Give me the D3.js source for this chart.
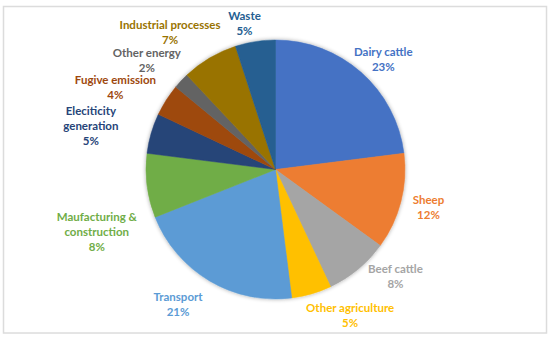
<!DOCTYPE html>
<html>
<head>
<meta charset="utf-8">
<script src="https://d3js.org/d3.v7.min.js"></script>
<style>
  body { margin: 0; background: #fff; }
  svg { display: block; }
  .lbl { font-family: Lato, "Open Sans", sans-serif; font-weight: bold; font-size: 11.5px; }
</style>
</head>
<body>
<script>
(function(){

//chart data, clockwise from 12 o'clock
var categories = ["Dairy cattle", "Sheep", "Beef cattle", "Other agriculture", "Transport",
    "Maufacturing & construction", "Eleciticity generation", "Fugive emission",
    "Other energy", "Industrial processes", "Waste"];
var shares = [23, 12, 8, 5, 21, 8, 5, 4, 2, 7, 5];
var labelLines = [["Dairy cattle"], ["Sheep"], ["Beef cattle"], ["Other agriculture"], ["Transport"],
    ["Maufacturing &", "construction"], ["Eleciticity", "generation"], ["Fugive emission"],
    ["Other energy"], ["Industrial processes"], ["Waste"]];
var colors = ["#4472C4", "#ED7D31", "#A5A5A5", "#FFC000", "#5B9BD5", "#70AD47",
    "#264478", "#9E480E", "#636363", "#997300", "#255E91"];

//label nudges (px) from the default outside position
var nudges = [[2, 10], [-2, -2], [18, -16], [30, -8], [-16, -3], [-20, 42],
    [-31, 1], [-25, 4], [-12, 0], [-24, 1], [-6, 12]];

var width = 550, height = 338,
    cx = 275.5, cy = 169.5,
    radius = 129.5,
    labelRadius = 160,
    lineGap = 15;

var svg = d3.select("body").append("svg")
    .attr("width", width)
    .attr("height", height);

//frame
svg.append("rect")
    .attr("x", 3.5).attr("y", 6.5)
    .attr("width", 543).attr("height", 326.5)
    .attr("fill", "#fff")
    .attr("stroke", "#dcdcdc")
    .attr("stroke-width", 1.5);

var defs = svg.append("defs");
var shadow = defs.append("filter").attr("id", "pieShadow")
    .attr("x", "-10%").attr("y", "-10%").attr("width", "120%").attr("height", "120%");
shadow.append("feGaussianBlur").attr("in", "SourceAlpha").attr("stdDeviation", 2).attr("result", "blur");
shadow.append("feComponentTransfer").append("feFuncA").attr("type", "linear").attr("slope", 0.35);
var merge = shadow.append("feMerge");
merge.append("feMergeNode");
merge.append("feMergeNode").attr("in", "SourceGraphic");

var data = categories.map(function(c, i){
    return {name: c, value: shares[i], lines: labelLines[i], color: colors[i], nudge: nudges[i]};
});

var pie = d3.pie()
    .sort(null)
    .value(function(d){ return d.value; });

var arc = d3.arc()
    .innerRadius(0)
    .outerRadius(radius);

var arcs = pie(data);

var g = svg.append("g")
    .attr("transform", "translate(" + cx + "," + cy + ")");

g.append("g")
    .attr("filter", "url(#pieShadow)")
    .selectAll("path")
    .data(arcs)
    .enter()
    .append("path")
    .attr("d", arc)
    .attr("fill", function(d){ return d.data.color; })
    .attr("stroke", function(d){ return d.data.color; })
    .attr("stroke-width", 0.5);

//data labels
var labels = g.selectAll(".lbl")
    .data(arcs)
    .enter()
    .append("text")
    .attr("class", "lbl")
    .attr("text-anchor", "middle")
    .attr("fill", function(d){ return d.data.color; })
    .each(function(d){
        var mid = (d.startAngle + d.endAngle) / 2;
        var x = labelRadius * Math.sin(mid) + d.data.nudge[0];
        var y = -labelRadius * Math.cos(mid) + d.data.nudge[1];
        var lines = d.data.lines.concat([d.data.value + "%"]);
        var t = d3.select(this);
        lines.forEach(function(s, i){
            t.append("tspan")
                .attr("x", x)
                .attr("y", y + (i - (lines.length - 1) / 2) * lineGap)
                .attr("dy", "0.35em")
                .text(s);
        });
    });

})();
</script>
</body>
</html>
